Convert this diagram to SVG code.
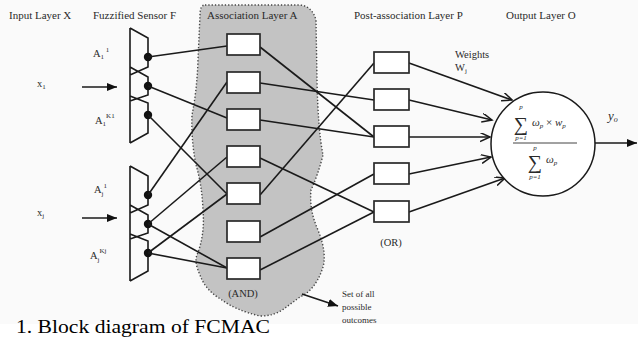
<svg xmlns="http://www.w3.org/2000/svg" width="638" height="337" viewBox="0 0 638 337">
<style>
text{font-family:"Liberation Serif","Times New Roman",serif;fill:#2a2a2a}
.hdr{font-size:11px}
.lbl{font-size:10.5px}
.sm{font-size:7px}
.it{font-style:italic}
.ln{stroke:#1a1a1a;stroke-width:1.6;fill:none}
.box{fill:#fff;stroke:#2a2a2a;stroke-width:1.7}
.dot{fill:#111}
</style>
<defs>
<marker id="open" markerUnits="userSpaceOnUse" markerWidth="12" markerHeight="10" refX="10" refY="4.5" orient="auto">
<path d="M0,0 L10,4.5 L0,9" fill="none" stroke="#1a1a1a" stroke-width="1.5"/>
</marker>
<marker id="fill" markerUnits="userSpaceOnUse" markerWidth="12" markerHeight="10" refX="10" refY="4" orient="auto">
<path d="M0,0 L10,4 L0,8 Z" fill="#111"/>
</marker>
<g id="sensorShape">
<path class="ln" d="M130,28 V143 M130,28 L148,38 V67 L130,75 M130,67 L148,77 V95 L130,101 M130,96 L148,103 V133 L130,143"/>
<circle class="dot" cx="148" cy="57" r="4.2"/>
<circle class="dot" cx="148" cy="86" r="4.2"/>
<circle class="dot" cx="148" cy="115" r="4.2"/>
</g>
</defs>
<rect x="0" y="0" width="638" height="324" fill="#fafafa"/>

<g id="association-blob">
<path d="M205,5 L300,5 Q312,6 316,20 L317,80 Q318,130 323,155 Q318,175 311,190 Q309,210 318,230 Q328,255 322,270 Q315,290 300,297 L285,308 Q275,316 260,316 Q235,310 222,300 Q205,290 200,275 Q194,262 197,255 Q205,235 203,210 Q202,185 196,165 Q191,140 192,115 Q197,90 198,60 L200,15 Q200,5 205,5 Z" fill="#c3c3c3" stroke="#444" stroke-width="1.4" stroke-dasharray="1.3 2"/>
</g>

<g id="headers">
<text class="hdr" x="9" y="19">Input Layer X</text>
<text class="hdr" x="93" y="19">Fuzzified Sensor F</text>
<text class="hdr" x="207" y="19">Association Layer A</text>
<text class="hdr" x="354" y="19">Post-association Layer P</text>
<text class="hdr" x="506" y="19">Output Layer O</text>
</g>

<g id="input-x1">
<text class="lbl" x="37" y="87">x<tspan class="sm" dy="2">1</tspan></text>
</g>
<g id="input-xj">
<text class="lbl" x="37" y="216">x<tspan class="sm" dy="2">j</tspan></text>
</g>

<g id="sensor-F1">
<use href="#sensorShape"/>
<text class="lbl" x="93" y="57">A<tspan class="sm" dy="2">1</tspan><tspan class="sm" dx="2" dy="-7">1</tspan></text>
<text class="lbl" x="95" y="124">A<tspan class="sm" dy="2">1</tspan><tspan class="sm" dy="-8">K1</tspan></text>
</g>
<g id="sensor-Fj">
<use href="#sensorShape" transform="translate(0,138)"/>
<text class="lbl" x="94" y="193">A<tspan class="sm" dy="3">j</tspan><tspan class="sm" dy="-8">1</tspan></text>
<text class="lbl" x="90" y="259">A<tspan class="sm" dy="3">j</tspan><tspan class="sm" dy="-9">Kj</tspan></text>
</g>

<g id="connectors">
<line class="ln" x1="82" y1="87" x2="117" y2="87" marker-end="url(#fill)"/>
<line class="ln" x1="82" y1="218" x2="117" y2="218" marker-end="url(#fill)"/>
<line class="ln" x1="148" y1="57" x2="227" y2="46"/>
<line class="ln" x1="148" y1="86" x2="227" y2="118"/>
<line class="ln" x1="148" y1="115" x2="227" y2="194"/>
<line class="ln" x1="148" y1="195" x2="227" y2="82"/>
<line class="ln" x1="148" y1="224" x2="227" y2="157"/>
<line class="ln" x1="148" y1="224" x2="227" y2="268"/>
<line class="ln" x1="148" y1="253" x2="227" y2="194"/>
<line class="ln" x1="148" y1="253" x2="227" y2="268"/>
<line class="ln" x1="260" y1="47" x2="374" y2="137"/>
<line class="ln" x1="260" y1="83" x2="374" y2="100"/>
<line class="ln" x1="260" y1="120" x2="374" y2="137"/>
<line class="ln" x1="260" y1="158" x2="374" y2="212"/>
<line class="ln" x1="260" y1="195" x2="374" y2="63"/>
<line class="ln" x1="260" y1="237" x2="374" y2="174"/>
<line class="ln" x1="260" y1="270" x2="374" y2="212"/>
<line class="ln" x1="409" y1="63" x2="512" y2="100" marker-end="url(#open)"/>
<line class="ln" x1="409" y1="100" x2="492" y2="120" marker-end="url(#open)"/>
<line class="ln" x1="409" y1="137" x2="490" y2="137" marker-end="url(#open)"/>
<line class="ln" x1="409" y1="174" x2="491" y2="157" marker-end="url(#open)"/>
<line class="ln" x1="409" y1="212" x2="505" y2="178" marker-end="url(#open)"/>
<line class="ln" x1="595" y1="143" x2="637" y2="143" marker-end="url(#fill)"/>
<line class="ln" x1="302" y1="294" x2="338" y2="306" marker-end="url(#fill)"/>
</g>

<g id="layer-A">
<rect class="box" x="227" y="34" width="33" height="21"/>
<rect class="box" x="227" y="72" width="33" height="21"/>
<rect class="box" x="227" y="109" width="33" height="21"/>
<rect class="box" x="227" y="146" width="33" height="21"/>
<rect class="box" x="227" y="183" width="33" height="21"/>
<rect class="box" x="227" y="221" width="33" height="21"/>
<rect class="box" x="227" y="258" width="33" height="21"/>
<text class="lbl" x="243" y="297" text-anchor="middle">(AND)</text>
</g>

<g id="layer-P">
<rect class="box" x="374" y="52" width="35" height="21"/>
<rect class="box" x="374" y="89" width="35" height="21"/>
<rect class="box" x="374" y="126" width="35" height="21"/>
<rect class="box" x="374" y="163" width="35" height="21"/>
<rect class="box" x="374" y="201" width="35" height="21"/>
<text class="lbl" x="391" y="246" text-anchor="middle">(OR)</text>
</g>

<g id="weights">
<text class="lbl" x="455" y="58">Weights</text>
<text class="lbl" x="455" y="71">W<tspan class="sm" dy="2">j</tspan></text>
</g>

<g id="output-O">
<circle cx="543" cy="144" r="52" fill="#fff" stroke="#1a1a1a" stroke-width="1.5"/>
<text x="521" y="131" font-size="20" text-anchor="middle">∑</text>
<text class="sm it" x="521" y="109" text-anchor="middle">p</text>
<text class="sm it" x="521" y="140" text-anchor="middle">p=1</text>
<text class="it" x="532" y="126" font-size="11">ω<tspan class="sm" dy="2">p</tspan><tspan dy="-2" font-style="normal"> × </tspan>w<tspan class="sm" dy="2">p</tspan></text>
<line x1="513" y1="143" x2="577" y2="143" stroke="#444" stroke-width="1"/>
<text x="535" y="169" font-size="20" text-anchor="middle">∑</text>
<text class="sm it" x="535" y="150" text-anchor="middle">p</text>
<text class="sm it" x="535" y="179" text-anchor="middle">p=1</text>
<text class="it" x="546" y="163" font-size="11">ω<tspan class="sm" dy="2">p</tspan></text>
<text class="it" x="608" y="120" font-size="13">y<tspan font-size="8" dy="2">o</tspan></text>
</g>

<g id="outcomes-note">
<text font-size="9" x="342" y="297">Set of all</text>
<text font-size="9" x="342" y="310">possible</text>
<text font-size="9" x="342" y="323">outcomes</text>
</g>

<text x="16" y="333" font-size="19" textLength="254" lengthAdjust="spacingAndGlyphs" style="fill:#000">1. Block diagram of FCMAC</text>
</svg>
